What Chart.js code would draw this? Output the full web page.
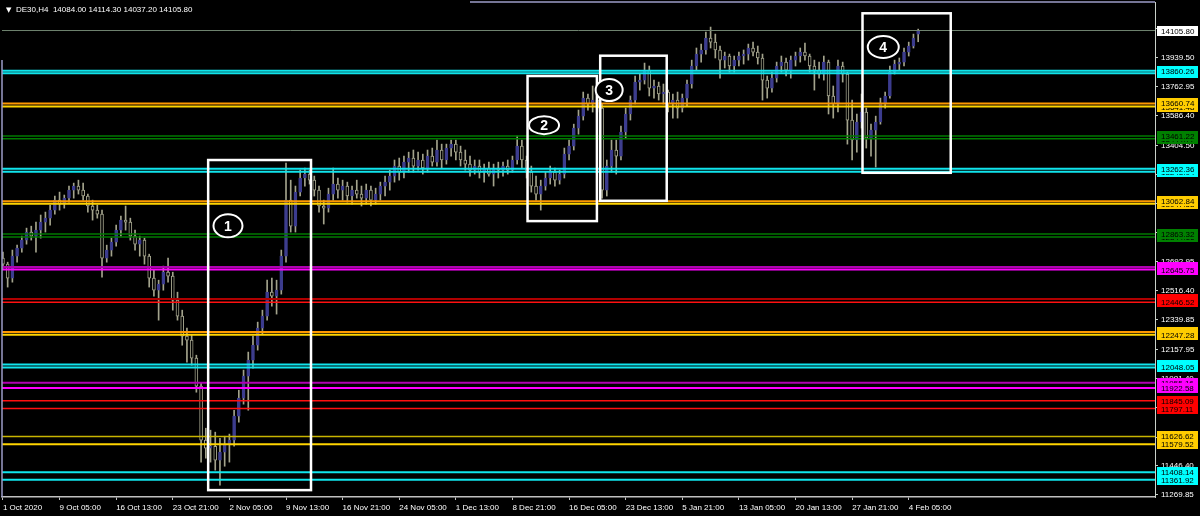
<!DOCTYPE html>
<html>
<head>
<meta charset="utf-8">
<script src="https://cdn.jsdelivr.net/npm/chart.js@4.4.1/dist/chart.umd.min.js"></script>
<style>
    html, body { margin: 0; padding: 0; background: #000; }
    #wrap { width: 1200px; height: 516px; position: relative; }
</style>
</head>
<body>
<div id="wrap"><canvas id="priceChart"></canvas></div>
<script>
// DE30 H4 candles, 1 Oct 2020 .. 5 Feb 2021
var symbol = 'DE30,H4';

var opens = [
    12716, 12679, 12594, 12728, 12777, 12826, 12875, 12850, 12887, 12936,
    12960, 13009, 13070, 13046, 13082, 13131, 13156, 13131, 13095, 13034,
    13009, 12985, 12716, 12765, 12814, 12887, 12948, 12936, 12850, 12801,
    12826, 12728, 12594, 12520, 12557, 12630, 12606, 12459, 12362, 12239,
    12215, 12105, 11934, 11604, 11555, 11567, 11482, 11531, 11580, 11604,
    11751, 11861, 11995, 12093, 12184, 12288, 12362, 12508, 12484, 12520,
    12728, 13070, 12911, 13119, 13205, 13229, 13192, 13131, 13034, 13021,
    13107, 13168, 13131, 13156, 13095, 13131, 13107, 13082, 13131, 13070,
    13107, 13156, 13180, 13217, 13278, 13241, 13302, 13327, 13278, 13315,
    13266, 13339, 13302, 13376, 13315, 13388, 13412, 13363, 13315, 13290,
    13253, 13278, 13241, 13266, 13229, 13266, 13253, 13278, 13253, 13315,
    13400, 13315, 13241, 13156, 13107, 13156, 13205, 13241, 13192, 13229,
    13351, 13400, 13510, 13583, 13693, 13657, 13681, 13632, 13131, 13278,
    13376, 13339, 13486, 13596, 13681, 13791, 13803, 13864, 13754, 13767,
    13718, 13730, 13657, 13681, 13632, 13693, 13779, 13889, 13962, 13987,
    14060, 14035, 13987, 13925, 13950, 13889, 13925, 13950, 13962, 13999,
    13974, 13938, 13803, 13754, 13815, 13889, 13913, 13864, 13925, 13950,
    13974, 13950, 13889, 13864, 13840, 13913, 13706, 13657, 13889, 13840,
    13559, 13437, 13547, 13608, 13449, 13498, 13547, 13657, 13706, 13852,
    13901, 13913, 13974, 14011, 14084
];
var highs = [
    12752, 12691, 12765, 12795, 12850, 12899, 12911, 12936, 12979, 12997,
    13040, 13095, 13119, 13101, 13156, 13174, 13192, 13174, 13107, 13070,
    13040, 13009, 12795, 12838, 12917, 12972, 13034, 12960, 12887, 12850,
    12838, 12740, 12643, 12581, 12667, 12716, 12630, 12508, 12398, 12288,
    12245, 12123, 11958, 11677, 11665, 11653, 11616, 11628, 11641, 11787,
    11909, 12032, 12142, 12239, 12325, 12398, 12581, 12594, 12581, 12765,
    13296, 13192, 13156, 13253, 13266, 13253, 13217, 13156, 13070, 13143,
    13266, 13205, 13192, 13180, 13156, 13192, 13156, 13168, 13156, 13143,
    13180, 13217, 13253, 13315, 13327, 13339, 13363, 13376, 13363, 13351,
    13376, 13388, 13437, 13412, 13412, 13437, 13437, 13400, 13376, 13339,
    13315, 13315, 13290, 13302, 13290, 13302, 13302, 13315, 13339, 13461,
    13437, 13339, 13278, 13217, 13192, 13241, 13278, 13266, 13253, 13388,
    13437, 13534, 13620, 13730, 13718, 13767, 13730, 13657, 13315, 13437,
    13437, 13522, 13632, 13706, 13828, 13840, 13907, 13889, 13803, 13791,
    13779, 13742, 13718, 13730, 13718, 13803, 13925, 13999, 14023, 14097,
    14127, 14084, 14011, 13974, 13962, 13950, 13974, 13987, 14023, 14035,
    14011, 13962, 13828, 13852, 13913, 13950, 13938, 13950, 13974, 13999,
    14029, 13962, 13925, 13913, 13950, 13925, 13767, 13925, 13913, 13852,
    13681, 13596, 13718, 13632, 13534, 13583, 13693, 13730, 13889, 13925,
    13938, 13999, 14035, 14084, 14114.30
];
var lows = [
    12655, 12539, 12569, 12691, 12752, 12801, 12826, 12752, 12838, 12875,
    12917, 12985, 13009, 13021, 13058, 13082, 13107, 13070, 12997, 12948,
    12960, 12600, 12691, 12728, 12789, 12850, 12887, 12826, 12765, 12728,
    12679, 12539, 12484, 12337, 12520, 12569, 12398, 12337, 12184, 12081,
    12062, 11897, 11470, 11494, 11470, 11421, 11329, 11445, 11470, 11567,
    11714, 11824, 11787, 12044, 12154, 12252, 12337, 12423, 12374, 12496,
    12691, 12875, 12875, 13095, 13156, 13168, 13095, 12997, 12924, 12997,
    13070, 13082, 13070, 13058, 13046, 13082, 13034, 13046, 13034, 13046,
    13070, 13095, 13131, 13180, 13192, 13205, 13241, 13241, 13253, 13229,
    13241, 13278, 13278, 13266, 13290, 13339, 13315, 13278, 13253, 13217,
    13229, 13205, 13180, 13217, 13156, 13205, 13217, 13229, 13241, 13290,
    13266, 13205, 13119, 13070, 13009, 13131, 13168, 13156, 13168, 13205,
    13315, 13376, 13473, 13559, 13620, 13608, 13608, 13082, 13095, 13241,
    13229, 13315, 13449, 13559, 13657, 13742, 13779, 13706, 13693, 13681,
    13657, 13608, 13571, 13571, 13608, 13644, 13754, 13864, 13913, 13962,
    13999, 13938, 13815, 13877, 13852, 13852, 13889, 13901, 13925, 13950,
    13901, 13681, 13693, 13730, 13791, 13852, 13828, 13815, 13889, 13913,
    13925, 13852, 13742, 13815, 13803, 13596, 13571, 13608, 13791, 13412,
    13315, 13363, 13510, 13388, 13339, 13272, 13534, 13632, 13693, 13840,
    13864, 13889, 13950, 13999, 14037.20
];
var closes = [
    12679, 12594, 12728, 12777, 12826, 12875, 12850, 12887, 12936, 12960,
    13009, 13070, 13046, 13082, 13131, 13156, 13131, 13095, 13034, 13009,
    12985, 12716, 12765, 12814, 12887, 12948, 12936, 12850, 12801, 12826,
    12728, 12594, 12520, 12557, 12630, 12606, 12459, 12362, 12239, 12215,
    12105, 11934, 11604, 11555, 11567, 11482, 11531, 11580, 11604, 11751,
    11861, 11995, 12093, 12184, 12288, 12362, 12508, 12484, 12520, 12728,
    13070, 12911, 13119, 13205, 13229, 13192, 13131, 13034, 13021, 13107,
    13168, 13131, 13156, 13095, 13131, 13107, 13082, 13131, 13070, 13107,
    13156, 13180, 13217, 13278, 13241, 13302, 13327, 13278, 13315, 13266,
    13339, 13302, 13376, 13315, 13388, 13412, 13363, 13315, 13290, 13253,
    13278, 13241, 13266, 13229, 13266, 13253, 13278, 13253, 13315, 13400,
    13315, 13241, 13156, 13107, 13156, 13205, 13241, 13192, 13229, 13351,
    13400, 13510, 13583, 13693, 13657, 13681, 13632, 13131, 13278, 13376,
    13339, 13486, 13596, 13681, 13791, 13803, 13864, 13754, 13767, 13718,
    13730, 13657, 13681, 13632, 13693, 13779, 13889, 13962, 13987, 14060,
    14035, 13987, 13925, 13950, 13889, 13925, 13950, 13962, 13999, 13974,
    13938, 13803, 13754, 13815, 13889, 13913, 13864, 13925, 13950, 13974,
    13950, 13889, 13864, 13840, 13913, 13706, 13657, 13889, 13840, 13559,
    13437, 13547, 13608, 13449, 13498, 13547, 13657, 13706, 13852, 13901,
    13913, 13974, 14011, 14060, 14105.80
];

var xTickIndex = [0, 12, 24, 36, 48, 60, 72, 84, 96, 108, 120, 132, 144, 156, 168, 180, 192];
var xTickLabels = ['1 Oct 2020', '9 Oct 05:00', '16 Oct 13:00', '23 Oct 21:00', '2 Nov 05:00',
    '9 Nov 13:00', '16 Nov 21:00', '24 Nov 05:00', '1 Dec 13:00', '8 Dec 21:00', '16 Dec 05:00',
    '23 Dec 13:00', '5 Jan 21:00', '13 Jan 05:00', '20 Jan 13:00', '27 Jan 21:00', '4 Feb 05:00'];
var yTickValues = [11269.85, 11446.40, 11622.95, 11804.85, 11981.40, 12157.95, 12339.85, 12516.40,
    12692.95, 12869.50, 13051.40, 13227.95, 13404.50, 13586.40, 13762.95, 13939.50, 14116.05];

// horizontal levels, listed in the order their price labels are stacked
var levelPrices = [14105.80, 13844.97, 13860.26, 13641.48, 13660.74, 13444.77, 13461.22,
    13243.04, 13262.36, 13047.58, 13062.84, 12844.16, 12863.32, 12660.98, 12645.75,
    12466.32, 12446.52, 12264.76, 12247.28, 12065.51, 12048.05, 11955.16, 11922.58,
    11845.09, 11797.11, 11626.62, 11579.52, 11408.14, 11361.92];
var levelKinds = ['bid', 'cyan', 'cyan', 'gold', 'orange', 'green', 'green',
    'cyan', 'cyan', 'gold', 'orange', 'green', 'green', 'purple', 'magenta',
    'darkred', 'red', 'orange', 'gold', 'cyan', 'cyan', 'purple', 'magenta',
    'red', 'red', 'olive', 'gold', 'cyan', 'cyan'];

// marked zones: [first bar, last bar, low price, high price]
var zoneRanges = [[43.5, 65.3, 11299, 13315], [111.2, 125.9, 12942, 13828],
    [126.6, 140.7, 13066, 13952], [182.2, 200.9, 13237, 14211]];
var zoneTagAt = [[47.7, 12913], [114.7, 13528], [128.5, 13742], [186.6, 14005]];
var zoneTags = ['1', '2', '3', '4'];

var FONT = '"Liberation Sans", Arial, sans-serif';
var lineColors = { bid: '#6f836f', cyan: '#10e4ec', gold: '#ffd400', orange: '#ff9a00', olive: '#c8b400',
    green: '#007a00', magenta: '#ff00ff', purple: '#b000b0', red: '#ff1010', darkred: '#b00000' };
var lineWidths = { bid: 1, cyan: 2, gold: 2, orange: 2, olive: 1.5, green: 1.5, magenta: 2, purple: 2, red: 1.5, darkred: 2 };
var boxColors = { bid: '#ffffff', cyan: '#00ffff', gold: '#ffcc00', orange: '#ffcc00', olive: '#ffcc00',
    green: '#008000', magenta: '#ff00ff', purple: '#ff00ff', red: '#ff0000', darkred: '#ff0000' };
var ellipseSizes = [[14.5, 11.5], [15, 9], [13.5, 11], [15.5, 11]];

var WICK = '#a3a38c';
var BULL = '#3c3c8e';

var overlay = {
    id: 'overlay',
    afterDatasetsDraw: function (chart) {
        var ctx = chart.ctx, a = chart.chartArea, x = chart.scales.x, y = chart.scales.y;
        ctx.save();
        ctx.beginPath();
        ctx.rect(a.left, a.top, a.right - a.left, a.bottom - a.top);
        ctx.clip();

        levelPrices.forEach(function (p, k) {
            var kind = levelKinds[k];
            var py = y.getPixelForValue(p);
            ctx.strokeStyle = lineColors[kind];
            ctx.lineWidth = lineWidths[kind];
            ctx.beginPath();
            ctx.moveTo(a.left, py);
            ctx.lineTo(a.right, py);
            ctx.stroke();
        });

        ctx.strokeStyle = '#ffffff';
        ctx.lineWidth = 2.5;
        zoneRanges.forEach(function (z) {
            var x0 = x.getPixelForValue(z[0]), x1 = x.getPixelForValue(z[1]);
            var y0 = y.getPixelForValue(z[3]), y1 = y.getPixelForValue(z[2]);
            ctx.strokeRect(x0, y0, x1 - x0, y1 - y0);
        });

        zoneTagAt.forEach(function (t, k) {
            var cx = x.getPixelForValue(t[0]), cy = y.getPixelForValue(t[1]);
            ctx.fillStyle = '#000';
            ctx.strokeStyle = '#ffffff';
            ctx.lineWidth = 2;
            ctx.beginPath();
            ctx.ellipse(cx, cy, ellipseSizes[k][0], ellipseSizes[k][1], 0, 0, Math.PI * 2);
            ctx.fill();
            ctx.stroke();
            ctx.fillStyle = '#ffffff';
            ctx.font = 'bold 14px ' + FONT;
            ctx.textAlign = 'center';
            ctx.textBaseline = 'middle';
            ctx.fillText(zoneTags[k], cx, cy + 1);
        });
        ctx.restore();
    },
    afterDraw: function (chart) {
        var ctx = chart.ctx, a = chart.chartArea, y = chart.scales.y;
        var n = closes.length - 1;
        ctx.save();

        // price labels on the right scale
        ctx.font = '8px ' + FONT;
        ctx.textAlign = 'left';
        ctx.textBaseline = 'middle';
        levelPrices.forEach(function (p, k) {
            var py = Math.round(y.getPixelForValue(p));
            ctx.fillStyle = boxColors[levelKinds[k]];
            ctx.fillRect(a.right + 2, py - 5, 41, 10);
            ctx.fillStyle = '#000';
            ctx.fillText(p.toFixed(2), a.right + 6, py + 0.5);
        });

        // window frame
        ctx.strokeStyle = '#9c9cc8';
        ctx.lineWidth = 1.5;
        ctx.beginPath();
        ctx.moveTo(470, a.top);
        ctx.lineTo(a.right, a.top);
        ctx.moveTo(a.left, 60);
        ctx.lineTo(a.left, a.bottom);
        ctx.stroke();

        // title
        ctx.fillStyle = '#ffffff';
        ctx.textBaseline = 'alphabetic';
        ctx.font = '7px "DejaVu Sans", sans-serif';
        ctx.fillText('\u25BC', 6, 12);
        ctx.font = '8px ' + FONT;
        ctx.fillText(symbol + '  ' + opens[n].toFixed(2) + ' ' + highs[n].toFixed(2) + ' ' +
            lows[n].toFixed(2) + ' ' + closes[n].toFixed(2), 16, 12);
        ctx.restore();
    }
};

var ctx = document.getElementById('priceChart').getContext('2d');
var myChart = new Chart(ctx, {
    type: 'bar',
    data: {
        datasets: [
            {
                label: 'range',
                data: highs.map(function (h, i) { return { x: i, y: [lows[i], h] }; }),
                backgroundColor: WICK,
                barThickness: 1,
                grouped: false,
                order: 2
            },
            {
                label: 'body',
                data: opens.map(function (o, i) { return { x: i, y: [o, closes[i]] }; }),
                backgroundColor: closes.map(function (c, i) { return c >= opens[i] ? BULL : '#000000'; }),
                borderColor: closes.map(function (c, i) { return c >= opens[i] ? BULL : WICK; }),
                borderWidth: 1,
                borderSkipped: false,
                barThickness: 3,
                minBarLength: 1,
                grouped: false,
                order: 1
            }
        ]
    },
    options: {
        responsive: true,
        maintainAspectRatio: false,
        animation: false,
        layout: { padding: { left: 2, top: 2, right: 0, bottom: 0 } },
        plugins: { legend: { display: false }, tooltip: { enabled: false } },
        scales: {
            x: {
                type: 'linear',
                offset: false,
                min: -0.2,
                max: 244.2,
                afterBuildTicks: function (s) { s.ticks = xTickIndex.map(function (v) { return { value: v }; }); },
                afterFit: function (s) { s.height = 19; s.paddingLeft = 0; s.paddingRight = 0; },
                ticks: {
                    color: '#ffffff',
                    font: { family: FONT, size: 8 },
                    align: 'start',
                    maxRotation: 0,
                    autoSkip: false,
                    padding: 3,
                    callback: function (v, i) { return xTickLabels[i]; }
                },
                grid: { offset: false, drawOnChartArea: false, tickLength: 3, color: '#c0c0c0' },
                border: { color: '#c0c0c0', width: 1.5 }
            },
            y: {
                type: 'linear',
                position: 'right',
                min: 11257,
                max: 14280,
                afterBuildTicks: function (s) { s.ticks = yTickValues.map(function (v) { return { value: v }; }); },
                afterFit: function (s) { s.width = 45; s.paddingTop = 0; s.paddingBottom = 0; },
                ticks: {
                    color: '#ffffff',
                    font: { family: FONT, size: 8 },
                    padding: 3,
                    callback: function (v) { return v.toFixed(2); }
                },
                grid: { drawOnChartArea: false, tickLength: 3, color: '#c8d0c8' },
                border: { color: '#c8d0c8', width: 1 }
            }
        }
    },
    plugins: [overlay]
});
</script>
</body>
</html>
